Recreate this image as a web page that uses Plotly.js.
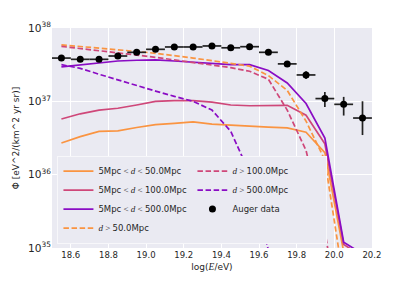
<!DOCTYPE html>
<html>
<head>
<meta charset="utf-8">
<script src="https://cdn.plot.ly/plotly-3.0.1.min.js"></script>
<style>html,body{margin:0;padding:0;background:#fff}#chart{width:413px;height:284px}</style>
</head>
<body>
<div id="chart"></div>
<script>
// Bin centres, log10(E/eV)
const logE = [18.55,18.65,18.75,18.85,18.95,19.05,19.15,19.25,19.35,19.45,19.55,19.65,19.75,19.85,19.95,20.05,20.15];

// Model fluxes Φ [eV^2/(km^2 yr sr)]
const flux5to50   = [2.7e36,3.3e36,3.9e36,3.95e36,4.4e36,4.8e36,5.0e36,5.25e36,4.9e36,4.7e36,4.6e36,4.45e36,4.35e36,3.8e36,2.0e36,8.9e34,6.0e34];
const flux5to100  = [5.75e36,6.76e36,7.59e36,8.04e36,8.91e36,1.0e37,1.02e37,1.02e37,9.77e36,8.91e36,8.71e36,8.71e36,8.81e36,6.46e36,2.63e36,1.12e35,7.6e34];
const flux5to500  = [2.95e37,3.16e37,3.39e37,3.55e37,3.63e37,3.67e37,3.55e37,3.39e37,3.24e37,3.16e37,3.16e37,2.63e37,1.78e37,9.33e36,3.16e36,1.2e35,8.3e34];
const fluxGt50    = [5.89e37,5.62e37,5.37e37,5.13e37,4.79e37,4.52e37,4.22e37,3.89e37,3.59e37,3.31e37,3.02e37,2.24e37,1.41e37,5.37e36,1.58e36,3.5e34,1e33];
const fluxGt100   = [5.62e37,5.25e37,5.01e37,4.68e37,4.27e37,3.98e37,3.67e37,3.39e37,3.09e37,2.88e37,2.57e37,2.0e37,7.6e36,2.14e36,1.74e35,4e33,1e32];
const fluxGt500   = [3.16e37,2.82e37,2.34e37,1.95e37,1.66e37,1.38e37,1.17e37,1.0e37,7.6e36,3.89e36,1.05e36,9.3e34,3e33,1e32,1e30,1e28,1e26];

// Auger data
const augerFlux   = [3.89e37,3.74e37,3.74e37,4.15e37,4.66e37,5.12e37,5.51e37,5.51e37,5.69e37,5.37e37,5.56e37,4.66e37,3.24e37,2.29e37,1.09e37,9.1e36,5.92e36];
const augerErrUp  = [1.0e36,0.8e36,0.8e36,0.9e36,1.0e36,1.1e36,1.2e36,1.3e36,1.4e36,1.5e36,1.8e36,2.0e36,2.4e36,2.8e36,2.5e36,2.4e36,4.1e36];
const augerErrLo  = [1.0e36,0.8e36,0.8e36,0.9e36,1.0e36,1.1e36,1.2e36,1.3e36,1.4e36,1.5e36,1.8e36,2.0e36,2.4e36,2.8e36,2.5e36,2.7e36,2.45e36];
const binHalfWidth= [0.05,0.05,0.05,0.05,0.05,0.05,0.05,0.05,0.05,0.05,0.05,0.05,0.05,0.05,0.05,0.05,0.05];

const xTicks = [18.6,18.8,19.0,19.2,19.4,19.6,19.8,20.0,20.2];
const xTickLabels = ['18.6','18.8','19.0','19.2','19.4','19.6','19.8','20.0','20.2'];

const cOrange = '#fa9441', cRed = '#cf4779', cPurple = '#8a0cc4';
const M = (s, sz) => "<span style='font-family:\"Liberation Serif\";font-size:" + sz + "px'>" + s + "</span>";
const lt = M(' &lt; <i>d</i> &lt; ', 9);
const gt = M('<i>d</i> &gt; ', 9);

function line(y, name, color, dash, rank) {
  return {x: logE, y: y, name: name, type: 'scatter', mode: 'lines',
    line: {color: color, width: 1.7, dash: dash}, legendrank: rank};
}
const dashPat = '5.5px,2.6px';
const traces = [
  line(flux5to50,  '5Mpc' + lt + '50.0Mpc',  cOrange, 'solid', 1),
  line(flux5to100, '5Mpc' + lt + '100.0Mpc', cRed,    'solid', 3),
  line(flux5to500, '5Mpc' + lt + '500.0Mpc', cPurple, 'solid', 5),
  line(fluxGt50,   gt + '50.0Mpc',  cOrange, dashPat, 7),
  line(fluxGt100,  gt + '100.0Mpc', cRed,    dashPat, 2),
  line(fluxGt500,  gt + '500.0Mpc', cPurple, dashPat, 4),
  {x: logE, y: augerFlux, name: 'Auger data', type: 'scatter', mode: 'markers',
   marker: {color: '#000', size: 7},
   error_x: {type: 'data', array: binHalfWidth, color: '#222', thickness: 1.7, width: 0},
   error_y: {type: 'data', symmetric: false, array: augerErrUp, arrayminus: augerErrLo, color: '#222', thickness: 1.7, width: 0},
   legendrank: 6}
];

const txt = '#262626';
const layout = {
  width: 413, height: 284,
  margin: {l: 52, r: 41, t: 28, b: 36, pad: 0},
  paper_bgcolor: '#ffffff', plot_bgcolor: '#eaeaf2',
  font: {family: 'DejaVu Sans', size: 8.5, color: txt},
  showlegend: true,
  legend: {orientation: 'h', x: 0.017, y: 0.02, xanchor: 'left', yanchor: 'bottom',
    bgcolor: '#eaeaf2', bordercolor: '#f7f7fa', borderwidth: 1,
    font: {family: 'DejaVu Sans', size: 8.5, color: txt},
    entrywidth: 89, entrywidthmode: 'pixels', traceorder: 'normal', itemwidth: 30},
  xaxis: {range: [18.5, 20.2005], tickmode: 'array', tickvals: xTicks, ticktext: xTickLabels,
    showgrid: true, gridcolor: '#ffffff', gridwidth: 1, zeroline: false, showline: false, ticks: '',
    tickfont: {size: 8.5, color: txt},
    title: {text: 'log(' + M('<i>E</i>', 9.5) + '/eV)', font: {size: 9, color: txt}, standoff: 5}},
  yaxis: {type: 'log', range: [35, 38], dtick: 1, exponentformat: 'power',
    showgrid: true, gridcolor: '#ffffff', gridwidth: 1, zeroline: false, showline: false, ticks: '',
    tickfont: {size: 8.5, color: txt},
    title: {text: 'Φ [eV^2/(km^2 yr sr)]', font: {size: 9, color: txt}, standoff: 6}}
};

Plotly.newPlot('chart', traces, layout, {displayModeBar: false, staticPlot: true});
</script>
</body>
</html>
